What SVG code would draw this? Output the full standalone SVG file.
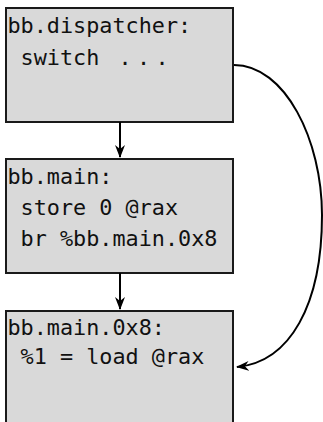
<svg xmlns="http://www.w3.org/2000/svg" width="323" height="422" viewBox="0 0 323 422">
<style>
.box{fill:#d9d9d9;stroke:#1a1a1a;stroke-width:2}
.t{font-family:"DejaVu Sans Mono","Liberation Mono",monospace;font-size:21.8px;fill:#111;white-space:pre}
.edge{fill:none;stroke:#000;stroke-width:2}
</style>
<defs>
<marker id="ah" markerUnits="userSpaceOnUse" markerWidth="13" markerHeight="11" viewBox="0 0 13 11" refX="12" refY="5.5" orient="auto">
<path d="M0,0.5 L13,5.5 L0,10.5 L4,5.5 z" fill="#000"/>
</marker>
</defs>
<g id="bb_dispatcher">
<rect class="box" x="6" y="8" width="227" height="114"/>
<text class="t" x="7.5" y="32.5" xml:space="preserve">bb.dispatcher:</text>
<text class="t" x="7.5" y="64.5" xml:space="preserve"> switch</text>
<text class="t" y="64.5" x="118.5 137 155.5" xml:space="preserve">...</text>
</g>
<g id="bb_main">
<rect class="box" x="6" y="159" width="227" height="114"/>
<text class="t" x="7.5" y="184" xml:space="preserve">bb.main:</text>
<text class="t" x="7.5" y="215" xml:space="preserve"> store 0 @rax</text>
<text class="t" x="7.5" y="246" xml:space="preserve"> br %bb.main.0x8</text>
</g>
<g id="bb_main_0x8">
<rect class="box" x="6" y="311" width="227" height="114"/>
<text class="t" x="7.5" y="335" xml:space="preserve">bb.main.0x8:</text>
<text class="t" x="7.5" y="364" xml:space="preserve"> %1 = load @rax</text>
</g>
<g id="connectors">
<path class="edge" d="M120,122 L120,157" marker-end="url(#ah)"/>
<path class="edge" d="M120,273 L120,309" marker-end="url(#ah)"/>
<path class="edge" d="M234,65 C285,65 322,140 322,215 C322,305 290,362 237,367" marker-end="url(#ah)"/>
</g>
</svg>
